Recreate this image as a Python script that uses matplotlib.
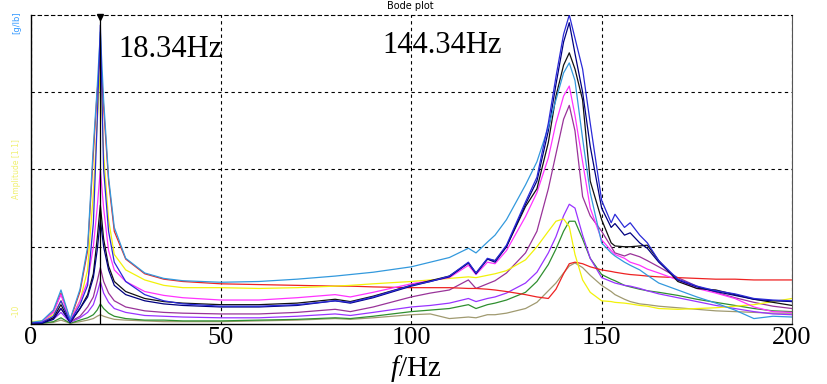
import matplotlib
matplotlib.use("Agg")
import matplotlib.pyplot as plt

plt.rcParams['font.family'] = ['Liberation Serif', 'DejaVu Serif']
plt.rcParams['mathtext.fontset'] = 'custom'
plt.rcParams['mathtext.rm'] = 'Liberation Serif'
plt.rcParams['mathtext.it'] = 'Liberation Serif:italic'

# frequency grid (Hz) shared by all measured curves
freq = [0, 3, 6, 8, 10.4, 13, 15, 16.5, 17.5, 18.34, 19.2, 20.5, 22, 25, 30, 35, 40,
        50, 60, 70, 80, 84, 90, 100, 105, 110, 115, 117, 120, 122, 125, 130, 133,
        136, 138, 140, 141.5, 143, 145, 147, 150, 152.5, 153.5, 156, 157.5, 160,
        162, 165, 170, 175, 180, 185, 190, 195, 200]

light_blue = [0.02, 0.04, 0.18, 0.44, 0.06, 0.45, 1.0, 2.3, 3.05, 3.78, 2.9, 1.9, 1.25,
              0.85, 0.66, 0.59, 0.56, 0.54, 0.55, 0.58, 0.62, 0.64, 0.67, 0.74, 0.8,
              0.86, 0.98, 0.92, 1.06, 1.15, 1.35, 1.8, 2.1, 2.55, 2.9, 3.25, 3.38, 3.15,
              2.4, 1.7, 1.05, 0.92, 0.88, 0.8, 0.76, 0.7, 0.63, 0.53, 0.44, 0.35, 0.27,
              0.18, 0.07, 0.1, 0.09]
blue = [0.01, 0.02, 0.1, 0.3, 0.03, 0.25, 0.5, 1.3, 2.6, 3.87, 2.0, 1.2, 0.8, 0.55,
        0.38, 0.3, 0.26, 0.23, 0.23, 0.25, 0.3, 0.28, 0.35, 0.5, 0.55, 0.62, 0.8, 0.66,
        0.85, 0.82, 1.02, 1.58, 1.9, 2.6, 3.2, 3.75, 4.0, 3.7, 3.3, 2.6, 1.6, 1.31,
        1.42, 1.25, 1.31, 1.15, 1.05, 0.82, 0.58, 0.49, 0.43, 0.39, 0.33, 0.31, 0.3]
navy = [0.01, 0.01, 0.06, 0.2, 0.02, 0.2, 0.35, 0.6, 0.95, 1.35, 1.0, 0.7, 0.5, 0.38,
        0.3, 0.26, 0.24, 0.22, 0.22, 0.24, 0.3, 0.27, 0.34, 0.49, 0.55, 0.61, 0.79, 0.65,
        0.84, 0.8, 1.0, 1.55, 1.85, 2.5, 3.1, 3.65, 3.9, 3.5, 3.0, 2.3, 1.5, 1.25, 1.3,
        1.15, 1.18, 1.05, 0.98, 0.8, 0.57, 0.48, 0.42, 0.37, 0.32, 0.3, 0.29]
black = [0.01, 0.01, 0.08, 0.25, 0.02, 0.2, 0.38, 0.65, 1.1, 1.54, 1.1, 0.75, 0.55,
         0.42, 0.33, 0.29, 0.27, 0.25, 0.25, 0.27, 0.32, 0.29, 0.36, 0.5, 0.56, 0.62,
         0.79, 0.66, 0.84, 0.82, 1.0, 1.52, 1.75, 2.35, 2.95, 3.35, 3.51, 3.3, 2.9, 1.85,
         1.35, 1.05, 1.01, 1.0, 1.0, 1.01, 1.02, 0.82, 0.55, 0.46, 0.44, 0.38, 0.32,
         0.28, 0.24]
magenta = [0.01, 0.03, 0.15, 0.38, 0.04, 0.3, 0.55, 1.0, 1.5, 2.0, 1.5, 0.95, 0.7,
           0.55, 0.42, 0.37, 0.34, 0.31, 0.31, 0.34, 0.38, 0.35, 0.41, 0.52, 0.56, 0.6,
           0.76, 0.64, 0.8, 0.78, 0.95, 1.39, 1.7, 2.15, 2.6, 2.95, 3.08, 2.7, 2.1, 1.5,
           1.09, 0.95, 0.9, 0.85, 0.8, 0.76, 0.71, 0.66, 0.57, 0.46, 0.4, 0.33, 0.22,
           0.16, 0.15]
purple = [0.01, 0.02, 0.08, 0.2, 0.03, 0.1, 0.22, 0.35, 0.55, 0.73, 0.55, 0.4, 0.3,
          0.22, 0.17, 0.15, 0.14, 0.13, 0.13, 0.15, 0.19, 0.16, 0.22, 0.35, 0.4, 0.44,
          0.57, 0.46, 0.52, 0.56, 0.66, 0.92, 1.2, 1.75, 2.2, 2.65, 2.83, 2.5, 1.65, 1.4,
          1.2, 1.0, 0.92, 0.88, 0.91, 0.87, 0.82, 0.74, 0.6, 0.49, 0.41, 0.34, 0.28,
          0.23, 0.2]
violet = [0.01, 0.02, 0.06, 0.15, 0.02, 0.08, 0.15, 0.25, 0.4, 0.55, 0.4, 0.28, 0.2,
          0.15, 0.11, 0.1, 0.09, 0.08, 0.08, 0.1, 0.13, 0.11, 0.15, 0.22, 0.24, 0.27,
          0.33, 0.29, 0.33, 0.35, 0.4, 0.53, 0.67, 0.92, 1.13, 1.4, 1.55, 1.5, 1.15, 0.85,
          0.6, 0.55, 0.53, 0.5, 0.49, 0.46, 0.43, 0.39, 0.34, 0.29, 0.24, 0.2, 0.16,
          0.13, 0.12]
green = [0.0, 0.01, 0.03, 0.08, 0.01, 0.05, 0.08, 0.12, 0.18, 0.26, 0.2, 0.14, 0.1,
         0.07, 0.05, 0.05, 0.04, 0.04, 0.05, 0.06, 0.08, 0.07, 0.1, 0.16, 0.18, 0.2,
         0.25, 0.2, 0.25, 0.27, 0.31, 0.41, 0.55, 0.77, 0.97, 1.2, 1.33, 1.33, 1.1, 0.85,
         0.64, 0.58, 0.56, 0.5, 0.48, 0.45, 0.43, 0.41, 0.37, 0.32, 0.28, 0.24, 0.2,
         0.17, 0.16]
olive = [0.0, 0.01, 0.02, 0.05, 0.01, 0.03, 0.05, 0.07, 0.1, 0.12, 0.1, 0.08, 0.06,
         0.05, 0.04, 0.03, 0.03, 0.03, 0.04, 0.05, 0.07, 0.06, 0.08, 0.12, 0.13, 0.07,
         0.09, 0.08, 0.12, 0.12, 0.14, 0.2, 0.28, 0.43, 0.53, 0.66, 0.75, 0.79, 0.73,
         0.63, 0.5, 0.42, 0.38, 0.32, 0.29, 0.26, 0.25, 0.23, 0.21, 0.19, 0.17, 0.16,
         0.15, 0.14, 0.14]
red = [0.02, 0.03, 0.16, 0.4, 0.05, 0.42, 0.95, 2.2, 3.0, 3.5, 2.8, 1.85, 1.2, 0.84,
       0.65, 0.58, 0.55, 0.52, 0.51, 0.5, 0.49, 0.49, 0.48, 0.47, 0.47, 0.47, 0.46,
       0.46, 0.45, 0.44, 0.42, 0.38, 0.35, 0.33, 0.45, 0.65, 0.78, 0.8, 0.78, 0.74,
       0.7, 0.68, 0.67, 0.65, 0.64, 0.63, 0.62, 0.61, 0.6, 0.59, 0.58, 0.58, 0.57,
       0.57, 0.57]
yellow = [0.03, 0.04, 0.12, 0.3, 0.05, 0.3, 0.7, 1.7, 2.6, 3.3, 2.2, 1.35, 0.9, 0.7,
          0.57, 0.5, 0.47, 0.47, 0.46, 0.47, 0.49, 0.5, 0.52, 0.55, 0.57, 0.59, 0.61,
          0.6, 0.63, 0.65, 0.69, 0.83, 1.0, 1.2, 1.33, 1.36, 1.26, 0.9, 0.57, 0.41, 0.3,
          0.29, 0.28, 0.27, 0.26, 0.24, 0.23, 0.2, 0.19, 0.2, 0.21, 0.23, 0.25, 0.29,
          0.33]

curves = [(olive, '#a09a70'), (green, '#2f8f2f'), (violet, '#9933ff'),
          (purple, '#993399'), (red, '#ee2222'), (yellow, '#f2f20a'),
          (magenta, '#ff33ff'), (black, '#111111'), (navy, '#000080'),
          (light_blue, '#3399dd'), (blue, '#2a2ad8')]

peak1 = 18.34
peak2 = 144.34

fig = plt.figure(figsize=(8.27, 3.84), dpi=100)
ax = fig.add_axes([0.0369, 0.1563, 0.9208, 0.8047])

for vals, col in curves:
    ax.plot(freq, vals, color=col, lw=0.9)

ax.axvline(peak1, color='black', lw=0.9)
ax.plot([peak1], [3.97], marker='v', color='black', ms=5, clip_on=False)

ax.set_xlim(0, 200)
ax.set_ylim(0, 4)
ax.set_xticks([0, 50, 100, 150, 200])
ax.set_yticks([1, 2, 3])
ax.set_yticklabels([])
ax.tick_params(axis='both', length=0, labelsize=19, pad=2)
ax.grid(True, color='black', linestyle=(0, (3, 3)), lw=0.8)
ax.spines['top'].set_linestyle((0, (3, 3)))
ax.spines['top'].set_linewidth(0.8)
ax.spines['right'].set_color('#555555')
for s in ['left', 'bottom']:
    ax.spines[s].set_linewidth(1.0)

# axis label placed by hand, the bottom of the picture is tight
fig.text(416 / 827, 0.02, r'$\mathit{f}$/Hz', fontsize=21, ha='center',
         va='baseline')

ax.text(23, 3.55, f'{peak1:.2f}Hz', fontsize=22, ha='left', va='center')
ax.text(92.5, 3.61, f'{peak2:.2f}Hz', fontsize=22, ha='left', va='center')

fig.text(0.496, 0.984, 'Bode plot', fontsize=7, ha='center', va='center',
         family='DejaVu Sans')
fig.text(0.02, 0.94, '[g/lb]', fontsize=6, rotation=90, ha='center', va='center',
         color='#3399ff', family='DejaVu Sans')
fig.text(0.02, 0.56, 'Amplitude [1:1]', fontsize=5.5, rotation=90, ha='center',
         va='center', color='#f0f070', family='DejaVu Sans')
fig.text(0.02, 0.19, '-10', fontsize=5.5, rotation=90, ha='center', va='center',
         color='#f0f070', family='DejaVu Sans')

plt.savefig('out.png', dpi=100)
